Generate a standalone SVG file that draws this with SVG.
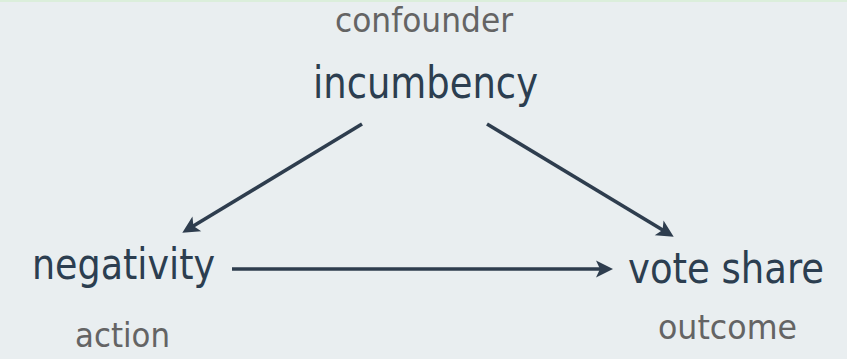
<svg xmlns="http://www.w3.org/2000/svg" width="847" height="359" viewBox="0 0 847 359">
  <defs>
    <style>
      .main { font-family: "DejaVu Sans", "Liberation Sans", sans-serif; font-stretch: condensed; fill: #2c3e50; }
      .sub { font-family: "DejaVu Sans", "Liberation Sans", sans-serif; font-stretch: condensed; fill: #646464; font-size: 33px; }
      .edge { stroke: #2e3d4e; stroke-width: 3.6; fill: none; marker-end: url(#head); }
    </style>
    <marker id="head" markerUnits="userSpaceOnUse" viewBox="-10 -10 22 20" markerWidth="22" markerHeight="20" refX="0" refY="0" orient="auto">
      <path d="M9,0 L-8,-8.5 L-4,0 L-8,8.5 Z" fill="#2e3d4e"/>
    </marker>
  </defs>

  <!-- background -->
  <rect x="0" y="0" width="847" height="359" fill="#e9eef0"/>
  <rect x="0" y="0" width="847" height="2" fill="#dbeedb"/>

  <!-- connectors -->
  <g id="edges">
    <line class="edge" x1="362" y1="124" x2="190" y2="228"/>
    <line class="edge" x1="487" y1="124" x2="666" y2="232"/>
    <line class="edge" x1="232" y1="269" x2="604" y2="269"/>
  </g>

  <!-- nodes -->
  <g id="incumbency">
    <text class="sub" x="335" y="32" textLength="178" lengthAdjust="spacingAndGlyphs">confounder</text>
    <text class="main" x="313" y="98" font-size="45" textLength="225" lengthAdjust="spacingAndGlyphs">incumbency</text>
  </g>
  <g id="negativity">
    <text class="main" x="32" y="279" font-size="42" textLength="183" lengthAdjust="spacingAndGlyphs">negativity</text>
    <text class="sub" x="75" y="347" textLength="95" lengthAdjust="spacingAndGlyphs">action</text>
  </g>
  <g id="vote-share">
    <text class="main" x="628" y="283" font-size="42" textLength="196" lengthAdjust="spacingAndGlyphs">vote share</text>
    <text class="sub" x="658" y="339" textLength="139" lengthAdjust="spacingAndGlyphs">outcome</text>
  </g>
</svg>
